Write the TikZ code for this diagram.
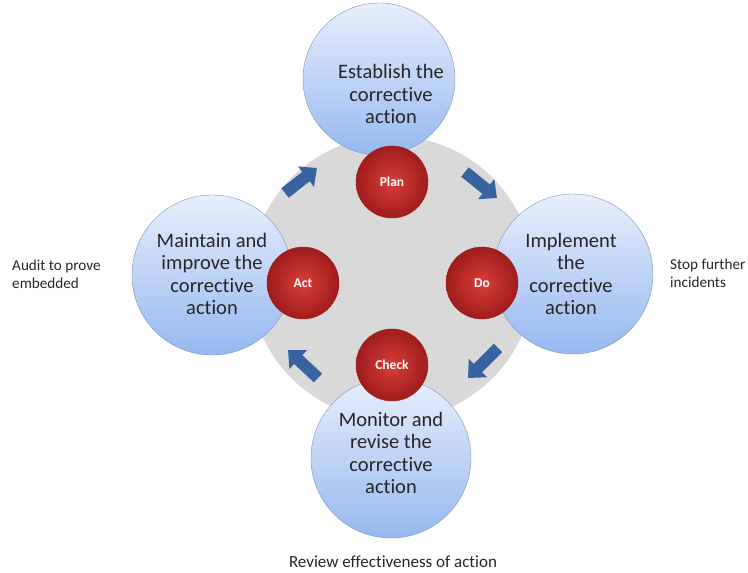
\documentclass[tikz,border=0pt]{standalone}
\usepackage{fontspec}
\setmainfont[Ligatures=NoCommon]{Carlito}
\usetikzlibrary{arrows.meta}

\definecolor{ringgrey}{RGB}{217,217,217}
\definecolor{bluetop}{RGB}{232,239,252}
\definecolor{bluebot}{RGB}{150,184,240}
\definecolor{blueline}{RGB}{128,148,185}
\definecolor{redin}{RGB}{216,62,56}
\definecolor{redout}{RGB}{160,28,28}
\definecolor{flowblue}{RGB}{55,100,160}

\tikzset{
  stage/.style={circle, draw=blueline, thin, top color=bluetop, bottom color=bluebot,
    minimum size=160pt, inner sep=0pt},
  phase/.style={circle, draw=redout, inner color=redin, outer color=redout,
    minimum size=72pt, inner sep=0pt, text=white, font=\bfseries\fontsize{13.5}{15}\selectfont},
  stagetext/.style={align=center, text=black!85, font=\fontsize{20.5}{22.5}\selectfont},
  note/.style={align=left, anchor=west, inner sep=0pt, text=black!85, font=\fontsize{15.2}{18}\selectfont},
  flow/.style={-{Triangle[length=14pt,width=25pt]}, line width=12pt, flowblue}
}

\begin{document}
\begin{tikzpicture}[x=1pt,y=-1pt]
\useasboundingbox (0,0) rectangle (748,573);

% grey disc behind the cycle
\node[circle, fill=ringgrey, minimum size=284pt] (ring) at (392,278) {};

% the four stages
\node[stage, minimum size=152pt] (establish) at (379,79) {};
\node[stage] (maintain) at (212,275) {};
\node[stage] (implement) at (573,274) {};
\node[stage] (monitor) at (391,458) {};

\node[stagetext] (establishtext) at (391,94) {Establish the\\corrective\\action};
\node[stagetext] (maintaintext) at (212,274) {Maintain and\\improve the\\corrective\\action};
\node[stagetext] (implementtext) at (571,274) {Implement\\the\\corrective\\action};
\node[stagetext] (monitortext) at (391,453) {Monitor and\\revise the\\corrective\\action};

% PDCA markers
\node[phase] (plan) at (392,182) {Plan};
\node[phase] (do) at (482,283) {Do};
\node[phase] (check) at (392,365) {Check};
\node[phase] (act) at (303,283) {Act};

% arrows round the cycle
\coordinate (actout) at (285,193);
\coordinate (planin) at (317,168);
\coordinate (planout) at (465,172);
\coordinate (doin) at (497,198);
\coordinate (doout) at (498,348);
\coordinate (checkin) at (468,378);
\coordinate (checkout) at (318,378);
\coordinate (actin) at (288,350);
\draw[flow] (actout) -- (planin);
\draw[flow] (planout) -- (doin);
\draw[flow] (doout) -- (checkin);
\draw[flow] (checkout) -- (actin);

% side notes
\node[note] (audit) at (12,274) {Audit to prove\\embedded};
\node[note] (stop) at (670,273) {Stop further\\incidents};
\node[note, anchor=center, font=\fontsize{17}{20}\selectfont] (review) at (393,562) {Review effectiveness of action};
\end{tikzpicture}
\end{document}
